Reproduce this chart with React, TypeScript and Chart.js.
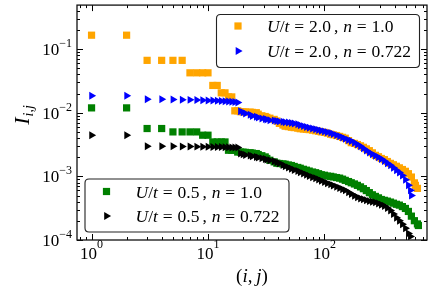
import React, { useEffect, useRef } from 'react';
import { Chart, registerables } from 'chart.js';
Chart.register(...registerables);

// ---------------- data ----------------
const seriesLabels = ['U/t = 2.0 , n = 1.0', 'U/t = 2.0 , n = 0.722', 'U/t = 0.5 , n = 1.0', 'U/t = 0.5 , n = 0.722'];
const uValues = ['2.0', '2.0', '0.5', '0.5'];
const nValues = ['1.0', '0.722', '1.0', '0.722'];

const orangeX = [1, 2, 3, 4, 5, 6, 7, 8, 9, 10, 11, 12, 13, 14, 15, 16, 17, 18,
  19, 20, 21, 23, 24, 26, 27, 29, 31, 32, 34, 37, 39, 41, 44, 46, 49, 52, 55, 59,
  62, 66, 70, 74, 79, 84, 89, 94, 100, 106, 113, 119, 127, 135, 143, 151, 161, 170, 181, 192,
  204, 216, 229, 243, 258, 274, 291, 308, 327, 347, 369, 391, 415, 440, 467, 496, 526, 558, 592, 604, 629];
const orangeY = [0.165, 0.165, 0.0664, 0.0664, 0.0664, 0.0664, 0.0423, 0.0423, 0.0423, 0.0423,
  0.0268, 0.0268, 0.0205, 0.0205, 0.0177, 0.0177, 0.0107, 0.0107,
  0.01037, 0.01033, 0.01026, 0.01022, 0.01011, 0.0100, 0.00947, 0.00894, 0.00871, 0.00844,
  0.00819, 0.00784, 0.00740, 0.00679, 0.00640, 0.00613, 0.00604, 0.00591, 0.00583, 0.00572,
  0.00560, 0.00554, 0.00548, 0.00542, 0.00532, 0.00521, 0.00510, 0.00499, 0.00490, 0.00477,
  0.00459, 0.00449, 0.00438, 0.00424, 0.00410, 0.00397, 0.00364, 0.00338, 0.00329, 0.00316,
  0.00302, 0.00286, 0.00270, 0.00253, 0.00234, 0.00214, 0.00203, 0.00191, 0.00183, 0.00171,
  0.00160, 0.00152, 0.00144, 0.00136, 0.00128, 0.00120, 0.00110, 0.000975, 0.000790, 0.000721, 0.000647];

const blueX = [1, 2, 3, 4, 5, 6, 7, 8, 9, 10, 11, 12, 13, 14, 15, 16, 17, 18,
  19, 20, 21, 23, 24, 26, 27, 29, 31, 32, 34, 37, 39, 41, 44, 46, 49, 52, 55, 59,
  62, 66, 70, 74, 79, 84, 89, 94, 100, 106, 113, 119, 127, 135, 143, 151, 161, 170, 181, 192,
  204, 216, 229, 243, 258, 274, 291, 308, 327, 347, 369, 391, 415, 440, 467, 496, 526, 547, 558];
const blueY = [0.0184, 0.0184, 0.0162, 0.0162, 0.0161, 0.0160, 0.0159, 0.0158, 0.0157, 0.0156,
  0.0155, 0.0154, 0.0153, 0.0151, 0.0150, 0.0148, 0.0147, 0.0145,
  0.01056, 0.01011, 0.00968, 0.00927, 0.00884, 0.00865, 0.00837, 0.00813, 0.00796, 0.00779,
  0.00762, 0.00751, 0.00740, 0.00730, 0.00719, 0.00709, 0.00701, 0.00691, 0.00676, 0.00657,
  0.00636, 0.00615, 0.00598, 0.00581, 0.00566, 0.00550, 0.00534, 0.00519, 0.00508, 0.00493,
  0.00481, 0.00462, 0.00444, 0.00425, 0.00407, 0.00390, 0.00373, 0.00358, 0.00337, 0.00317,
  0.00297, 0.00275, 0.00255, 0.00236, 0.00222, 0.00210, 0.00199, 0.00187, 0.00174, 0.00161,
  0.00149, 0.00137, 0.00125, 0.00115, 0.00103, 0.000881, 0.000722, 0.000602, 0.000502];

const greenX = [1, 2, 3, 4, 5, 6, 7, 8, 9, 10, 11, 12, 13, 14, 15, 16, 17, 18,
  19, 20, 21, 23, 24, 26, 27, 29, 31, 32, 34, 37, 39, 41, 44, 46, 49, 52, 55, 59,
  62, 66, 70, 74, 79, 84, 89, 94, 100, 106, 113, 119, 127, 135, 143, 151, 161, 170, 181, 192,
  204, 216, 229, 243, 258, 274, 291, 308, 327, 347, 369, 391, 415, 440, 467, 496, 526, 558, 592, 629, 641];
const greenY = [0.0119, 0.0119, 0.00564, 0.00564, 0.00499, 0.00499, 0.00499, 0.00499, 0.00443, 0.00443,
  0.00347, 0.00347, 0.00347, 0.00347, 0.00257, 0.00257, 0.00257, 0.00241,
  0.00241, 0.00240, 0.00238, 0.00235, 0.00232, 0.00228, 0.00220, 0.00211, 0.00202, 0.00191,
  0.00179, 0.00169, 0.00161, 0.00159, 0.00157, 0.00155, 0.00151, 0.00148, 0.00143, 0.00138,
  0.00134, 0.00129, 0.00125, 0.00121, 0.00117, 0.00114, 0.00110, 0.00106, 0.00104, 0.00101,
  0.00100, 0.000978, 0.000957, 0.000937, 0.000903, 0.000865, 0.000828, 0.000793, 0.000759, 0.000722,
  0.000683, 0.000640, 0.000598, 0.000554, 0.000513, 0.000484, 0.000459, 0.000433, 0.000420, 0.000408,
  0.000394, 0.000379, 0.000364, 0.000353, 0.000335, 0.000313, 0.000281, 0.000237, 0.000201, 0.000179, 0.000169];

const blackX = [1, 2, 3, 4, 5, 6, 7, 8, 9, 10, 11, 12, 13, 14, 15, 16, 17, 18,
  19, 20, 21, 23, 24, 26, 27, 29, 31, 32, 34, 37, 39, 41, 44, 46, 49, 52, 55, 59,
  62, 66, 70, 74, 79, 84, 89, 94, 100, 106, 113, 119, 127, 135, 143, 151, 161, 170, 181, 192,
  204, 216, 229, 243, 258, 274, 291, 308, 327, 347, 369, 391, 415, 440, 467, 496, 526, 547];
const blackY = [0.00443, 0.00443, 0.00298, 0.00297, 0.00297, 0.00295, 0.00294, 0.00293, 0.00292, 0.00291,
  0.00290, 0.00289, 0.00288, 0.00287, 0.00286, 0.00285, 0.00284, 0.00283,
  0.00228, 0.00222, 0.00216, 0.00212, 0.00207, 0.00201, 0.00198, 0.00193, 0.00187, 0.00183,
  0.00179, 0.00173, 0.00167, 0.00160, 0.00151, 0.00144, 0.00138, 0.00132, 0.00126, 0.00121,
  0.00116, 0.00111, 0.00106, 0.00101, 0.000971, 0.000930, 0.000891, 0.000853, 0.000816, 0.000781,
  0.000748, 0.000717, 0.000686, 0.000657, 0.000629, 0.000602, 0.000564, 0.000528, 0.000494, 0.000471,
  0.000450, 0.000436, 0.000422, 0.000408, 0.000398, 0.000390, 0.000373, 0.000357, 0.000342, 0.000318,
  0.000291, 0.000256, 0.000224, 0.000201, 0.000177, 0.000153, 0.000127, 0.000114];

const xTickExps = [0, 1, 2];
const yTickExps = [-1, -2, -3, -4];
const X_MIN = 0.75;
const X_MAX = 760;
const Y_MIN = 1e-4;
const Y_MAX = 0.49;

// ---------------- styles ----------------
const COLORS = ['#FFA500', '#0000FF', '#008000', '#000000'];
const SHAPES = ['rect', 'triangle', 'rect', 'triangle'];
const SERIF = '"Liberation Serif", "DejaVu Serif", serif';
const SQ_R = 5.1;
const TRI_R = 4.6;

type Seg = { t: string; it?: boolean } | { gap: number };

function legendSegs(u: string, n: string): Seg[] {
  return [
    { t: 'U', it: true }, { t: '/' }, { t: 't', it: true }, { gap: 0.28 }, { t: '=' }, { gap: 0.28 },
    { t: u }, { gap: 0.17 }, { t: ',' }, { gap: 0.28 }, { t: 'n', it: true }, { gap: 0.28 },
    { t: '=' }, { gap: 0.28 }, { t: n },
  ];
}

function segWidth(ctx: CanvasRenderingContext2D, segs: Seg[], size: number) {
  let w = 0;
  for (const s of segs) {
    if ('gap' in s) { w += s.gap * size; continue; }
    ctx.font = `${s.it ? 'italic ' : ''}${size}px ${SERIF}`;
    w += ctx.measureText(s.t).width;
  }
  return w;
}

function drawSegs(ctx: CanvasRenderingContext2D, segs: Seg[], x: number, y: number, size: number) {
  for (const s of segs) {
    if ('gap' in s) { x += s.gap * size; continue; }
    ctx.font = `${s.it ? 'italic ' : ''}${size}px ${SERIF}`;
    ctx.fillText(s.t, x, y);
    x += ctx.measureText(s.t).width;
  }
  return x;
}

function drawMarker(ctx: CanvasRenderingContext2D, shape: string, color: string, x: number, y: number) {
  ctx.fillStyle = color;
  if (shape === 'rect') {
    const h = SQ_R * Math.SQRT1_2;
    ctx.fillRect(x - h, y - h, 2 * h, 2 * h);
  } else {
    const r = TRI_R;
    ctx.beginPath();
    ctx.moveTo(x + r, y);
    ctx.lineTo(x - r / 2, y - r * 0.866);
    ctx.lineTo(x - r / 2, y + r * 0.866);
    ctx.closePath();
    ctx.fill();
  }
}

function roundRect(ctx: CanvasRenderingContext2D, x: number, y: number, w: number, h: number, r: number) {
  ctx.beginPath();
  ctx.moveTo(x + r, y);
  ctx.lineTo(x + w - r, y);
  ctx.quadraticCurveTo(x + w, y, x + w, y + r);
  ctx.lineTo(x + w, y + h - r);
  ctx.quadraticCurveTo(x + w, y + h, x + w - r, y + h);
  ctx.lineTo(x + r, y + h);
  ctx.quadraticCurveTo(x, y + h, x, y + h - r);
  ctx.lineTo(x, y + r);
  ctx.quadraticCurveTo(x, y, x + r, y);
  ctx.closePath();
}

const LEGENDS = [
  { x: 216, y: 14, w: 203, h: 53, items: [0, 1], rows: [26, 51] },
  { x: 84.5, y: 178.5, w: 204, h: 53, items: [2, 3], rows: [191.5, 216] },
];

const decorPlugin = {
  id: 'decor',
  afterDraw(chart: any) {
    const ctx: CanvasRenderingContext2D = chart.ctx;
    const a = chart.chartArea;
    const xs = chart.scales.x;
    const ys = chart.scales.y;
    ctx.save();

    // inward ticks on all sides
    ctx.strokeStyle = '#000';
    ctx.lineWidth = 1;
    const tick = (px: number, len: number, vertical: boolean) => {
      ctx.beginPath();
      if (vertical) {
        ctx.moveTo(px, a.bottom); ctx.lineTo(px, a.bottom - len);
        ctx.moveTo(px, a.top); ctx.lineTo(px, a.top + len);
      } else {
        ctx.moveTo(a.left, px); ctx.lineTo(a.left + len, px);
        ctx.moveTo(a.right, px); ctx.lineTo(a.right - len, px);
      }
      ctx.stroke();
    };
    for (let d = -1; d <= 3; d++) {
      for (let m = 1; m <= 9; m++) {
        const v = m * Math.pow(10, d);
        if (v < X_MIN || v > X_MAX) continue;
        tick(Math.round(xs.getPixelForValue(v)) + 0.5, m === 1 ? 6 : 3, true);
      }
    }
    for (let d = -5; d <= 0; d++) {
      for (let m = 1; m <= 9; m++) {
        const v = m * Math.pow(10, d);
        if (v < Y_MIN * 0.999 || v > Y_MAX) continue;
        tick(Math.round(ys.getPixelForValue(v)) + 0.5, m === 1 ? 6 : 3, false);
      }
    }

    // frame
    ctx.lineWidth = 1.3;
    ctx.strokeStyle = '#111';
    ctx.strokeRect(a.left, a.top, a.right - a.left, a.bottom - a.top);

    // tick labels
    ctx.fillStyle = '#000';
    ctx.textBaseline = 'alphabetic';
    ctx.textAlign = 'left';
    const expStr = (e: number) => (e < 0 ? '\u2212' + -e : String(e));
    for (const e of xTickExps) {
      const px = xs.getPixelForValue(Math.pow(10, e));
      ctx.font = `17px ${SERIF}`;
      const w1 = ctx.measureText('10').width;
      ctx.font = `12px ${SERIF}`;
      const w2 = ctx.measureText(expStr(e)).width;
      const x0 = px - (w1 + w2) / 2;
      ctx.font = `17px ${SERIF}`;
      ctx.fillText('10', x0, a.bottom + 18.5);
      ctx.font = `12px ${SERIF}`;
      ctx.fillText(expStr(e), x0 + w1, a.bottom + 8);
    }
    for (const e of yTickExps) {
      const py = ys.getPixelForValue(Math.pow(10, e));
      const right = a.left - 5;
      ctx.font = `12px ${SERIF}`;
      const w2 = ctx.measureText(expStr(e)).width;
      ctx.fillText(expStr(e), right - w2, py - 2);
      ctx.font = `17px ${SERIF}`;
      const w1 = ctx.measureText('10').width;
      ctx.fillText('10', right - w2 - w1, py + 6);
    }

    // axis titles
    const xl: Seg[] = [{ t: '(' }, { t: 'i', it: true }, { t: ',' }, { gap: 0.2 }, { t: 'j', it: true }, { t: ')' }];
    const xw = segWidth(ctx, xl, 19);
    drawSegs(ctx, xl, (a.left + a.right) / 2 - xw / 2, 282, 19);

    ctx.save();
    ctx.translate(29, 115);
    ctx.rotate(-Math.PI / 2);
    ctx.font = `italic 22px ${SERIF}`;
    const wI = ctx.measureText('I').width;
    ctx.font = `italic 14px ${SERIF}`;
    const wS = ctx.measureText('i,j').width;
    const sx = -(wI + wS + 1) / 2;
    ctx.font = `italic 22px ${SERIF}`;
    ctx.fillText('I', sx, 0);
    ctx.font = `italic 14px ${SERIF}`;
    ctx.fillText('i,j', sx + wI + 1, 4);
    ctx.restore();

    // legends
    for (const L of LEGENDS) {
      roundRect(ctx, L.x + 0.5, L.y + 0.5, L.w, L.h, 4);
      ctx.fillStyle = '#fff';
      ctx.fill();
      ctx.lineWidth = 1.1;
      ctx.strokeStyle = '#222';
      ctx.stroke();
      L.items.forEach((idx, k) => {
        const ry = L.rows[k];
        drawMarker(ctx, SHAPES[idx], COLORS[idx], L.x + 22, ry);
        ctx.fillStyle = '#000';
        drawSegs(ctx, legendSegs(uValues[idx], nValues[idx]), L.x + 51, ry + 6, 17.5);
      });
    }
    ctx.restore();
  },
};

export default function App() {
  const ref = useRef<HTMLCanvasElement | null>(null);
  useEffect(() => {
    if (!ref.current) return;
    const xsAll = [orangeX, blueX, greenX, blackX];
    const ysAll = [orangeY, blueY, greenY, blackY];
    const chart = new Chart(ref.current, {
      type: 'scatter',
      data: {
        datasets: xsAll.map((xs, i) => ({
          label: seriesLabels[i],
          data: xs.map((x, j) => ({ x, y: ysAll[i][j] })),
          pointStyle: SHAPES[i] as any,
          rotation: SHAPES[i] === 'triangle' ? 90 : 0,
          pointRadius: SHAPES[i] === 'rect' ? SQ_R : TRI_R,
          pointBorderWidth: 0,
          backgroundColor: COLORS[i],
          borderColor: COLORS[i],
          order: 4 - i,
        })),
      },
      options: {
        animation: false,
        responsive: false,
        maintainAspectRatio: false,
        layout: { padding: { top: 5, right: 9, left: 0, bottom: 0 } },
        plugins: { legend: { display: false }, tooltip: { enabled: false } },
        scales: {
          x: {
            type: 'logarithmic', min: X_MIN, max: X_MAX,
            grid: { display: false }, border: { display: false }, ticks: { display: false },
            afterFit: (s: any) => { s.height = 51; },
          },
          y: {
            type: 'logarithmic', min: Y_MIN, max: Y_MAX,
            grid: { display: false }, border: { display: false }, ticks: { display: false },
            afterFit: (s: any) => { s.width = 77; },
          },
        },
      },
      plugins: [decorPlugin],
    });
    return () => chart.destroy();
  }, []);
  return (
    <div style={{ position: 'fixed', left: 0, top: 0, width: 436, height: 291, background: '#fff' }}>
      <canvas ref={ref} width={436} height={291} style={{ width: 436, height: 291, display: 'block' }} />
    </div>
  );
}
